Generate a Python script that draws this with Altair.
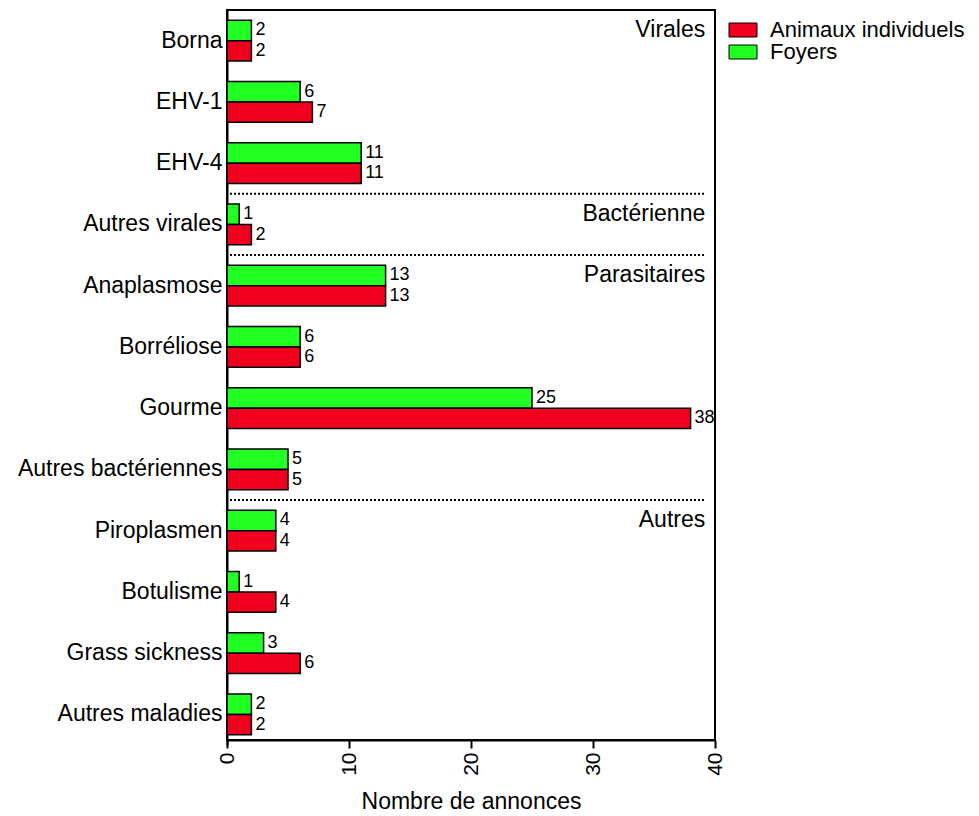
import altair as alt
import pandas as pd

categories = ["Borna", "EHV-1", "EHV-4", "Autres virales", "Anaplasmose", "Borréliose",
              "Gourme", "Autres bactériennes", "Piroplasmen", "Botulisme",
              "Grass sickness", "Autres maladies"]
animaux = [2, 7, 11, 2, 13, 6, 38, 5, 4, 4, 6, 2]
foyers = [2, 6, 11, 1, 13, 6, 25, 5, 4, 1, 3, 2]
series = ["Animaux individuels", "Foyers"]
colors = ["#F0001E", "#22FF22"]

section_labels = ["Virales", "Bactérienne", "Parasitaires", "Autres"]
section_anchor = ["Borna", "Autres virales", "Anaplasmose", "Piroplasmen"]
separator_at = ["Autres virales", "Anaplasmose", "Piroplasmen"]

rows = []
for c, a, f in zip(categories, animaux, foyers):
    rows.append({"cat": c, "serie": "Foyers", "val": f})
    rows.append({"cat": c, "serie": "Animaux individuels", "val": a})
df = pd.DataFrame(rows)

sec_df = pd.DataFrame({"cat": section_anchor, "label": section_labels,
                       "serie": ["Foyers"] * 4, "val": [39.2] * 4})
sep_df = pd.DataFrame({"cat": separator_at})

FONT = "Liberation Sans"

y_enc = alt.Y("cat:N", sort=categories, title=None,
              scale=alt.Scale(domain=categories, paddingInner=0, paddingOuter=0,
                              range=[0, 735]),
              axis=alt.Axis(labelFontSize=23, labelFont=FONT, labelColor="black",
                            ticks=False, labelPadding=5, domainColor="black",
                            domainWidth=2, labelLimit=0))
yoff = alt.YOffset("serie:N", scale=alt.Scale(domain=["Foyers", "Animaux individuels"],
                                              paddingInner=0, paddingOuter=0.5))
x_scale = alt.Scale(domain=[0, 40], nice=False)

bars = alt.Chart(df).mark_bar(stroke="black", strokeWidth=1.5, opacity=1).encode(
    y=y_enc,
    yOffset=yoff,
    x=alt.X("val:Q", scale=x_scale, title="Nombre de annonces",
            axis=alt.Axis(values=[0, 10, 20, 30, 40], labelAngle=-90, labelFontSize=21,
                          labelFont=FONT, labelColor="black", tickSize=8, tickWidth=2,
                          tickColor="black", domainColor="black", domainWidth=2,
                          grid=False, titleFontSize=23, titleFont=FONT,
                          titleFontWeight="normal", titleColor="black",
                          titlePadding=15, labelPadding=4)),
    color=alt.Color("serie:N", scale=alt.Scale(domain=series, range=colors),
                    legend=alt.Legend(title=None, orient="none", legendX=505, legendY=9,
                                      symbolType="M-2,-1L2,-1L2,1L-2,1Z",
                                      symbolSize=196, symbolStrokeColor="black",
                                      symbolStrokeWidth=1, symbolOpacity=1,
                                      labelFontSize=22, labelFont=FONT,
                                      labelColor="black", padding=0, rowPadding=0,
                                      labelOffset=16, labelLimit=0)),
)

labels = alt.Chart(df).mark_text(align="left", baseline="middle", dx=4, fontSize=18,
                                 font=FONT, color="black").encode(
    y=alt.Y("cat:N", sort=categories),
    yOffset=alt.YOffset("serie:N"),
    x=alt.X("val:Q"),
    text=alt.Text("val:Q"),
)

sections = alt.Chart(sec_df).mark_text(align="right", baseline="middle", fontSize=23,
                                       font=FONT, color="black").encode(
    y=alt.Y("cat:N", sort=categories),
    yOffset=alt.YOffset("serie:N"),
    x=alt.X("val:Q"),
    text="label:N",
)

seps = alt.Chart(sep_df).mark_rule(strokeDash=[2, 2], strokeWidth=2, color="black").encode(
    y=alt.Y("cat:N", sort=categories, bandPosition=0),
    x=alt.value(3),
    x2=alt.value(478),
)

chart = alt.layer(bars, labels, sections, seps).properties(
    width=488, height=730,
    padding={"left": 227, "top": 10, "right": 264, "bottom": 76},
    autosize="none",
).configure(background="white").configure_view(stroke="black", strokeWidth=2)

chart.save("out.html", embed_options={"renderer": "svg", "actions": False})
